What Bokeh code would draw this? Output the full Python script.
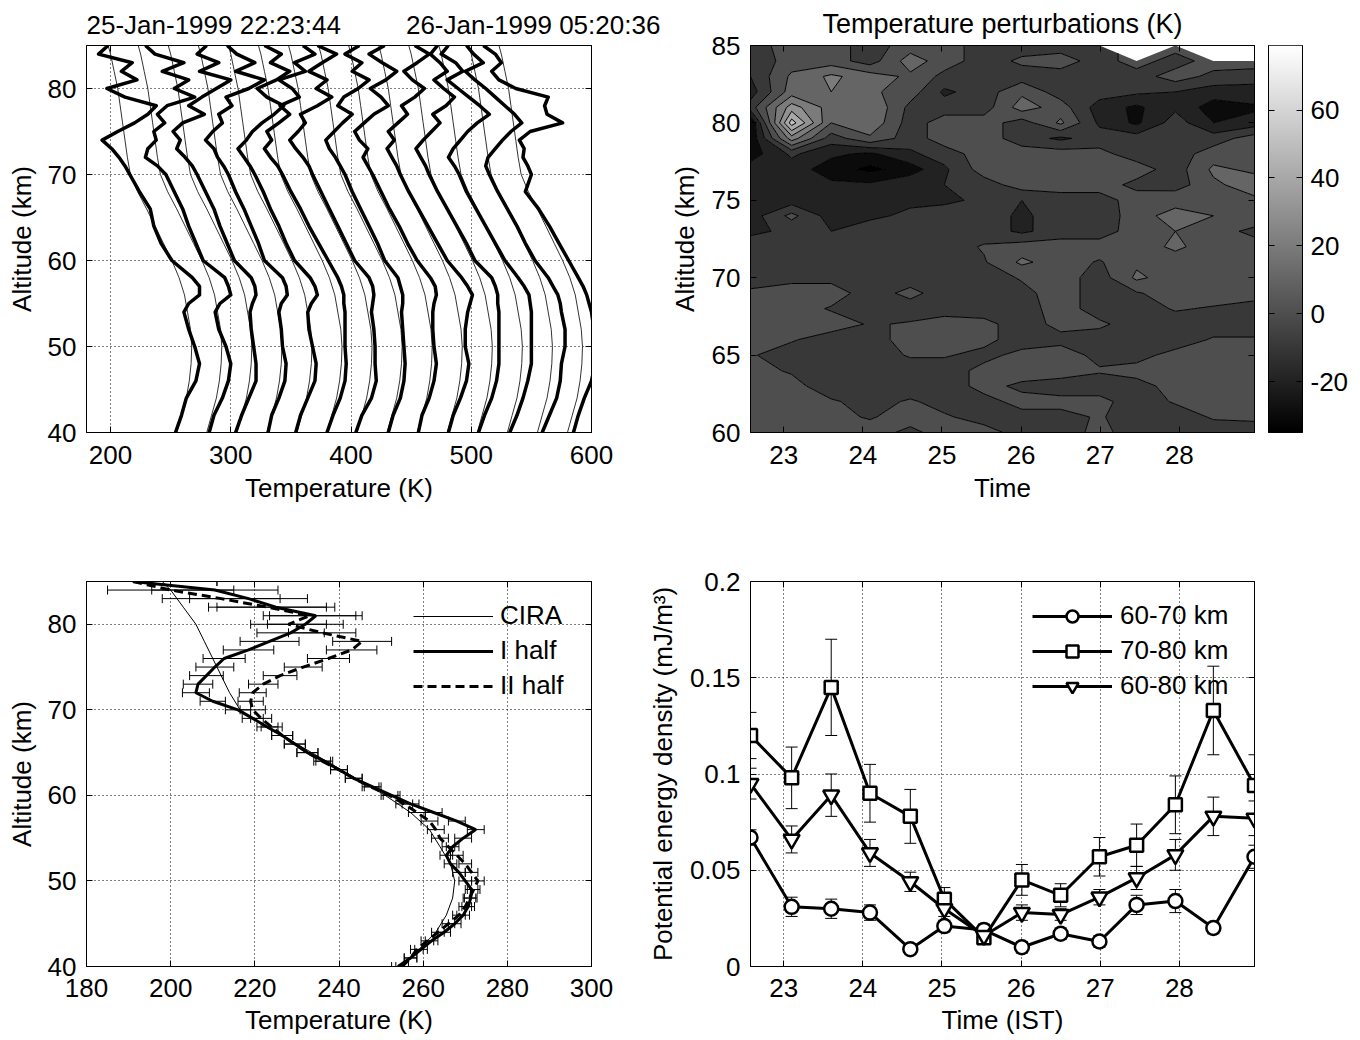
import numpy as np
from bokeh.plotting import figure
from bokeh.layouts import row, column
from bokeh.models import (Range1d, FixedTicker, LinearAxis, Whisker, TeeHead,
                          ColumnDataSource, LinearColorMapper, CustomJSTickFormatter,
                          Legend, LegendItem)
from bokeh.embed import file_html
from bokeh.resources import INLINE

NAN = float("nan")

# ------------------------------------------------------------------ data
# panel (a): individual temperature profiles, each shifted by 25 K
HEADER_START = "25-Jan-1999 22:23:44"
HEADER_END = "26-Jan-1999 05:20:36"
PROFILE_SHIFT_K = 25
PROFILE_ALT = [40, 42, 44, 46, 48, 50, 52, 54, 55, 56, 57, 58, 60, 62, 64, 66, 68, 70,
               71, 72, 73, 74, 75, 76, 77, 78, 79, 80, 81, 82, 83, 84, 85]
P00 = [254, 259, 263, 271, 274, 270, 265, 261, 265, 274, 274, 268, 251, 242, 236, 233, 224, 216,
       212, 207, 201, 193, 206, 220, 231, 238, 212, 197, 222, 209, 218, 190, 198]
P01 = [257, 261, 268, 273, 275, 271, 265, 262, 266, 275, 273, 270, 252, 246, 240, 235, 228, 221,
       214, 204, 206, 213, 211, 220, 214, 222, 245, 228, 240, 218, 236, 212, 204]
P02 = [254, 259, 265, 271, 271, 269, 267, 266, 268, 271, 270, 267, 253, 247, 241, 236, 229, 222,
       218, 212, 205, 208, 202, 210, 228, 215, 226, 238, 250, 224, 240, 222, 230]
P03 = [256, 259, 265, 270, 271, 268, 267, 265, 267, 272, 271, 268, 253, 248, 242, 236, 229, 223,
       219, 214, 211, 204, 210, 218, 215, 226, 221, 240, 253, 229, 245, 230, 222]
P04 = [254, 258, 264, 270, 271, 268, 265, 264, 267, 272, 270, 266, 253, 246, 240, 233, 227, 220,
       216, 211, 206, 213, 218, 226, 236, 244, 230, 222, 238, 249, 233, 242, 228]
P05 = [255, 260, 266, 270, 271, 270, 270, 270, 269, 269, 267, 264, 256, 248, 240, 233, 225, 218,
       214, 208, 203, 209, 205, 215, 224, 216, 232, 226, 215, 237, 228, 245, 235]
P06 = [254, 259, 267, 271, 270, 270, 269, 267, 268, 269, 268, 265, 253, 246, 239, 232, 225, 218,
       215, 210, 204, 199, 206, 212, 208, 222, 234, 221, 230, 215, 226, 238, 222]
P07 = [256, 260, 266, 269, 270, 269, 268, 267, 268, 268, 266, 264, 253, 247, 240, 233, 226, 220,
       216, 212, 207, 204, 211, 218, 226, 214, 219, 231, 240, 226, 234, 220, 232]
P08 = [256, 259, 265, 269, 271, 269, 268, 268, 269, 271, 270, 266, 255, 247, 240, 232, 225, 218,
       214, 210, 214, 207, 203, 211, 219, 231, 225, 216, 229, 238, 226, 215, 228]
P09 = [256, 260, 266, 271, 273, 270, 270, 272, 274, 276, 272, 267, 255, 247, 239, 231, 223, 216,
       213, 209, 205, 211, 206, 214, 222, 217, 228, 236, 226, 219, 230, 240, 228]
P10 = [256, 261, 267, 271, 273, 273, 273, 273, 272, 272, 270, 267, 253, 246, 238, 230, 222, 215,
       212, 208, 204, 210, 217, 224, 218, 229, 236, 227, 219, 230, 224, 216, 222]
P11 = [257, 263, 268, 272, 275, 275, 275, 275, 274, 273, 269, 264, 253, 245, 237, 229, 221, 215,
       211, 206, 210, 216, 222, 230, 240, 232, 223, 214, 205, 218, 212, 200, 206]
P12 = [259, 265, 271, 274, 275, 278, 278, 275, 274, 272, 268, 264, 253, 245, 238, 230, 222, 215,
       212, 214, 220, 226, 233, 242, 236, 228, 220, 212, 203, 195, 210, 202, 196]
P13 = [260, 264, 269, 275, 278, 278, 277, 275, 273, 271, 268, 264, 256, 248, 240, 231, 220, 225,
       222, 218, 219, 215, 224, 251, 238, 236, 239, 212, 198, 192, 200, 195, 185]
PROFILES = [P00, P01, P02, P03, P04, P05, P06, P07, P08, P09, P10, P11, P12, P13]

CIRA_ALT = [40, 42, 44, 46, 48, 50, 52, 54, 56, 58, 60, 62, 64, 66, 68, 70, 72, 74, 76, 78, 80, 82, 84, 85]
CIRA_T = [255, 259, 263, 265.5, 267, 267.5, 266.5, 264, 261.5, 257, 251, 244, 237, 230, 222.5,
          216.5, 214, 212, 210, 208, 206, 203, 200, 198]

# panel (b): temperature perturbations (K), rows from 85 km down to 60 km
PERT_TITLE = "Temperature perturbations (K)"
TIMES = [22.58, 23.10, 23.60, 24.09, 24.60, 25.03, 25.53, 26.01, 26.50, 26.99, 27.46, 27.95, 28.43, 28.95]
PERT_ALT = [85, 84, 83, 82, 81, 80, 79, 78, 77, 76, 75, 74, 73, 72, 71, 70, 69, 68, 67, 66, 65, 64, 63, 62, 61, 60]
PERT_ROWS = [
    [-5, 5, 5, -5, 5, 5, -5, -5, -5, -5, NAN, 5, NAN, NAN],
    [-8, 5, 5, -5, 15, 5, -5, 2, 5, -5, 5, -5, 5, 8],
    [-10, 12, 22, 15, 8, -3, -5, -5, -5, -5, -5, 5, -3, -8],
    [-15, 15, 20, 12, 5, -12, -5, 8, -5, -5, -8, -10, -15, -12],
    [-5, 35, 15, 20, -3, -5, -5, 15, 5, -15, -22, -12, -25, -22],
    [-30, 55, 10, 18, -5, 5, 5, -5, 12, -12, -22, -5, -20, -15],
    [-28, 25, -5, 8, -5, 5, 5, -5, -12, -5, -5, -5, -5, 5],
    [-25, -8, -18, -22, -12, -5, 5, 5, 5, 3, -5, -5, 5, 5],
    [-15, -15, -25, -33, -25, -12, 5, 5, 8, 5, 5, -5, 12, 8],
    [-15, -15, -18, -18, -12, -10, -5, 5, 5, 5, -3, -5, 8, 15],
    [-15, -15, -15, -12, -12, -12, -8, -10, -5, -5, 5, 8, 8, 8],
    [-15, 3, -15, -12, -8, -5, -5, -12, -5, -10, 8, 12, 10, 8],
    [-12, -8, -10, -5, -5, -5, -5, -12, -5, -5, 5, 10, 5, -3],
    [-5, -5, -5, -5, -5, -5, 1, 5, 5, 5, 5, 12, 5, 5],
    [-5, -5, -5, -5, -5, -5, -1, 12, 5, -1, 8, 5, 5, 5],
    [-5, -3, -3, -5, -5, -5, -5, 1, 5, -5, 12, 5, 5, 5],
    [2, 5, 5, -5, 3, -5, -5, -3, 5, -5, -1, 5, 5, 5],
    [5, 5, -1, -5, -5, -5, -5, -5, 5, -5, -5, 1, -1, -5],
    [5, 5, 5, -1, 1, 5, 3, -5, 3, 2, -5, -5, -5, -5],
    [5, 1, -5, -5, 5, 5, 3, -5, -3, -5, -5, -5, 1, 1],
    [1, -5, -5, -5, 1, 1, -3, 3, 5, -3, -3, 3, 5, 5],
    [3, -1, -5, -5, -5, -5, 3, 5, 5, 1, 3, 5, 5, 5],
    [5, 3, -5, -5, -5, -5, 3, -2, -5, -5, -3, 3, 5, 5],
    [5, 3, 1, -3, 1, -3, -3, 3, 3, 3, -5, 1, 5, 5],
    [5, 5, 3, -1, 5, 1, -3, -3, -3, 1, -5, -5, 1, 2],
    [5, 5, 3, 5, -3, 5, 3, -3, -5, 3, -5, -5, -5, -5],
]
PERT_LEVELS = [-35, -30, -20, -10, 0, 10, 20, 30, 40, 50, 60, 70, 79]
CBAR_LOW, CBAR_HIGH = -35, 79
CBAR_TICKS = [-20, 0, 20, 40, 60]

# panel (c): mean profiles of the two halves of the night
MEAN_ALT = [40, 41, 42, 43, 44, 45, 46, 47, 48, 49, 50, 51, 52, 53, 54, 55, 56, 57, 58, 59, 60, 61, 62,
            63, 64, 65, 66, 67, 68, 69, 70, 71, 72, 73, 74, 75, 76, 77, 78, 79, 80, 81, 82, 83, 84, 85]
I_HALF = [254.0, 257.0, 259.5, 262.0, 265.0, 267.5, 269.5, 270.7, 271.3, 271.5, 270.0, 268.5, 266.5,
          265.5, 267.0, 269.5, 272.5, 268.0, 262.5, 257.0, 252.5, 248.0, 243.5, 240.0, 236.5, 232.5,
          229.5, 226.5, 223.0, 219.5, 216.0, 210.0, 206.0, 206.5, 208.5, 210.5, 212.7, 218.5, 223.5,
          228.5, 232.0, 234.5, 225.0, 218.5, 210.5, 191.0]
II_HALF = [255.0, 257.0, 258.5, 261.0, 263.5, 266.0, 268.5, 270.0, 271.0, 272.0, 273.0, 271.5, 270.0,
           268.0, 266.0, 264.0, 263.0, 261.5, 258.5, 255.5, 252.0, 247.5, 243.5, 240.0, 236.0, 232.5,
           229.5, 226.5, 224.0, 221.5, 219.5, 219.0, 219.5, 222.0, 226.0, 231.5, 237.5, 243.0, 245.5,
           236.0, 228.0, 233.0, 223.0, 212.0, 200.0, 191.0]
MEAN_ERR = [1.5, 1.5, 1.5, 1.5, 1.5, 1.5, 1.5, 1.5, 1.5, 1.5, 1.5, 1.5, 1.5, 1.5, 1.5, 2.0, 2.0, 2.0,
            2.0, 2.0, 2.0, 2.0, 2.0, 2.0, 2.0, 2.5, 2.5, 2.5, 2.5, 2.5, 3.0, 3.0, 3.2, 3.5, 4.0, 4.5,
            5.0, 6.0, 7.0, 8.0, 9.0, 11.0, 14.0, 14.0, 15.0, 20.0]

# panel (d): potential energy density (mJ/m^3)
PE_60_70 = [0.067, 0.031, 0.030, 0.028, 0.009, 0.021, 0.019, 0.010, 0.017, 0.013, 0.032, 0.034, 0.020, 0.057]
PE_60_70_ERR = [0.004, 0.005, 0.005, 0.004, 0.002, 0.003, 0.003, 0.003, 0.003, 0.003, 0.005, 0.006, 0.003, 0.006]
PE_70_80 = [0.120, 0.098, 0.145, 0.090, 0.078, 0.035, 0.015, 0.045, 0.037, 0.057, 0.063, 0.084, 0.133, 0.094]
PE_70_80_ERR = [0.012, 0.016, 0.025, 0.015, 0.014, 0.006, 0.003, 0.008, 0.006, 0.010, 0.011, 0.015, 0.023, 0.016]
PE_60_80 = [0.095, 0.066, 0.089, 0.059, 0.044, 0.030, 0.016, 0.028, 0.027, 0.036, 0.046, 0.058, 0.078, 0.077]
PE_60_80_ERR = [0.008, 0.007, 0.011, 0.007, 0.005, 0.004, 0.002, 0.004, 0.003, 0.004, 0.006, 0.008, 0.010, 0.009]

# ------------------------------------------------------------------ style helpers
FONT = "Liberation Sans"
FS = "26px"
PLAIN_NUM = "return String(tick)"


def blank_axis(ticks):
    return LinearAxis(ticker=FixedTicker(ticks=ticks),
                      formatter=CustomJSTickFormatter(code="return ''"),
                      major_label_text_font_size="1px", major_label_standoff=0,
                      major_tick_in=6, major_tick_out=0, minor_tick_line_color=None,
                      axis_line_color="black", major_tick_line_color="black")


def make_fig(w, h, xr, yr, bl, br, bt, bb, xticks, yticks, xlabel, ylabel, grid,
             x_std=13, x_als=6, y_std=10, y_als=8, yfmt=None, title=None, title_align="left",
             title_standoff=10, title_size=FS):
    p = figure(width=w, height=h, x_range=Range1d(*xr), y_range=Range1d(*yr),
               min_border_left=bl, min_border_right=br, min_border_top=bt, min_border_bottom=bb,
               output_backend="svg", toolbar_location=None)
    p.background_fill_color = "white"
    p.border_fill_color = "white"
    p.outline_line_color = "black"
    p.outline_line_width = 1
    for ax, ticks, lab, std, als in ((p.xaxis[0], xticks, xlabel, x_std, x_als),
                                     (p.yaxis[0], yticks, ylabel, y_std, y_als)):
        ax.ticker = FixedTicker(ticks=ticks)
        ax.axis_label = lab
        ax.axis_label_text_font = FONT
        ax.axis_label_text_font_size = FS
        ax.axis_label_text_font_style = "normal"
        ax.axis_label_text_color = "black"
        ax.axis_label_standoff = als
        ax.major_label_text_font = FONT
        ax.major_label_text_font_size = FS
        ax.major_label_text_color = "black"
        ax.major_label_standoff = std
        ax.major_tick_in = 6
        ax.major_tick_out = 0
        ax.minor_tick_line_color = None
        ax.axis_line_color = "black"
        ax.major_tick_line_color = "black"
    if yfmt is not None:
        p.yaxis[0].formatter = yfmt
    p.add_layout(blank_axis(xticks), "above")
    p.add_layout(blank_axis(yticks), "right")
    if grid:
        p.xgrid.ticker = FixedTicker(ticks=xticks)
        p.ygrid.ticker = FixedTicker(ticks=yticks)
        p.grid.grid_line_color = "black"
        p.grid.grid_line_dash = "1 3"
        p.grid.grid_line_width = 1
        p.grid.grid_line_alpha = 1.0
    else:
        p.grid.visible = False
    if title is not None:
        p.title.text = title
        p.title.align = title_align
        p.title.text_font = FONT
        p.title.text_font_size = title_size
        p.title.text_font_style = "normal"
        p.title.text_color = "black"
        p.title.standoff = title_standoff
    return p


# ------------------------------------------------------------------ panel (a)
header = HEADER_START + "\u00a0" * 9 + HEADER_END
p1 = make_fig(666, 512, (180, 600), (40, 85), 86, 75, 45, 80,
              [200, 300, 400, 500, 600], [40, 50, 60, 70, 80],
              "Temperature (K)", "Altitude (km)", True,
              title=header, title_align="left", title_standoff=12)
for k, prof in enumerate(PROFILES):
    shift = PROFILE_SHIFT_K * k
    p1.line(np.array(CIRA_T) + shift, CIRA_ALT, line_color="#333333", line_width=1)
for k, prof in enumerate(PROFILES):
    shift = PROFILE_SHIFT_K * k
    p1.line(np.array(prof) + shift, PROFILE_ALT, line_color="black", line_width=3.5, line_join="round")

# ------------------------------------------------------------------ panel (b)
p2 = make_fig(594, 512, (TIMES[0], TIMES[-1]), (60, 85), 84, 6, 45, 80,
              [23, 24, 25, 26, 27, 28], [60, 65, 70, 75, 80, 85],
              "Time", "Altitude (km)", False, y_als=9,
              title=PERT_TITLE, title_align="center", title_standoff=13, title_size="27px")
z = np.array(PERT_ROWS, dtype=float)[::-1]
alt_up = np.array(PERT_ALT, dtype=float)[::-1]
span = CBAR_HIGH - CBAR_LOW
band_colors = []
for lv in PERT_LEVELS[:-1]:
    g = int(round(255 * (lv - CBAR_LOW) / span))
    band_colors.append("#%02x%02x%02x" % (g, g, g))
p2.contour(x=np.array(TIMES), y=alt_up, z=z, levels=PERT_LEVELS,
           fill_color=band_colors, line_color="black", line_width=1)

# colour bar
GRAY = ["#%02x%02x%02x" % (v, v, v) for v in range(256)]
pcb = figure(width=92, height=512, x_range=Range1d(0, 1), y_range=Range1d(CBAR_LOW, CBAR_HIGH),
             min_border_left=8, min_border_right=50, min_border_top=45, min_border_bottom=80,
             output_backend="svg", toolbar_location=None, y_axis_location="right")
pcb.xaxis.visible = False
pcb.grid.visible = False
pcb.outline_line_color = "black"
pcb.background_fill_color = "white"
pcb.border_fill_color = "white"
grad = np.linspace(CBAR_LOW, CBAR_HIGH, 256).reshape(-1, 1)
pcb.image(image=[grad], x=0, y=CBAR_LOW, dw=1, dh=span,
          color_mapper=LinearColorMapper(palette=GRAY, low=CBAR_LOW, high=CBAR_HIGH))
cy = pcb.yaxis[0]
cy.ticker = FixedTicker(ticks=CBAR_TICKS)
cy.formatter = CustomJSTickFormatter(code=PLAIN_NUM)
cy.major_label_text_font = FONT
cy.major_label_text_font_size = FS
cy.major_label_text_color = "black"
cy.major_label_standoff = 8
cy.major_tick_in = 6
cy.major_tick_out = 0
cy.minor_tick_line_color = None
cy.axis_line_color = "black"
pcb.add_layout(blank_axis(CBAR_TICKS), "left")

# ------------------------------------------------------------------ panel (c)
p3 = make_fig(632, 528, (180, 300), (40, 85), 86, 41, 69, 74,
              [180, 200, 220, 240, 260, 280, 300], [40, 50, 60, 70, 80],
              "Temperature (K)", "Altitude (km)", True, x_std=12, x_als=5)
for vals in (I_HALF, II_HALF):
    src = ColumnDataSource(dict(base=MEAN_ALT,
                                lower=[t - e for t, e in zip(vals, MEAN_ERR)],
                                upper=[t + e for t, e in zip(vals, MEAN_ERR)]))
    p3.add_layout(Whisker(source=src, base="base", lower="lower", upper="upper", dimension="width",
                          line_color="black", line_width=1,
                          upper_head=TeeHead(size=9, line_color="black", line_width=1),
                          lower_head=TeeHead(size=9, line_color="black", line_width=1)))
r_cira = p3.line(CIRA_T, CIRA_ALT, line_color="black", line_width=1)
r_i = p3.line(I_HALF, MEAN_ALT, line_color="black", line_width=3)
r_ii = p3.line(II_HALF, MEAN_ALT, line_color="black", line_width=3, line_dash="9 5")
leg3 = Legend(items=[LegendItem(label="CIRA", renderers=[r_cira]),
                     LegendItem(label="I half", renderers=[r_i]),
                     LegendItem(label="II half", renderers=[r_ii])],
              location=(327, 265), glyph_width=80, glyph_height=30, label_height=30,
              spacing=4, padding=0, margin=0, label_standoff=7,
              label_text_font=FONT, label_text_font_size=FS, label_text_color="black",
              background_fill_alpha=0, border_line_alpha=0)
p3.add_layout(leg3)

# ------------------------------------------------------------------ panel (d)
p4 = make_fig(720, 528, (TIMES[0], TIMES[-1]), (0, 0.2), 118, 98, 69, 74,
              [23, 24, 25, 26, 27, 28], [0, 0.05, 0.1, 0.15, 0.2],
              "Time (IST)", "Potential energy density (mJ/m\u00b3)", True,
              x_std=12, x_als=5, y_als=9,
              yfmt=CustomJSTickFormatter(code=PLAIN_NUM))
series = [("60-70 km", PE_60_70, PE_60_70_ERR, "circle", 14),
          ("70-80 km", PE_70_80, PE_70_80_ERR, "square", 13),
          ("60-80 km", PE_60_80, PE_60_80_ERR, "inverted_triangle", 16)]
items = []
for label, vals, errs, marker, size in series:
    src = ColumnDataSource(dict(base=TIMES,
                                lower=[v - e for v, e in zip(vals, errs)],
                                upper=[v + e for v, e in zip(vals, errs)]))
    p4.add_layout(Whisker(source=src, base="base", lower="lower", upper="upper", dimension="height",
                          line_color="black", line_width=1,
                          upper_head=TeeHead(size=12, line_color="black", line_width=1),
                          lower_head=TeeHead(size=12, line_color="black", line_width=1)))
for label, vals, errs, marker, size in series:
    rl = p4.line(TIMES, vals, line_color="black", line_width=3)
    rs = p4.scatter(TIMES, vals, marker=marker, size=size, line_color="black",
                    line_width=2.5, fill_color="white")
    items.append(LegendItem(label=label, renderers=[rl, rs]))
leg4 = Legend(items=items, location=(282, 265), glyph_width=80, glyph_height=30, label_height=30,
              spacing=4, padding=0, margin=0, label_standoff=8,
              label_text_font=FONT, label_text_font_size=FS, label_text_color="black",
              background_fill_alpha=0, border_line_alpha=0)
p4.add_layout(leg4)

layout = column(row(p1, p2, pcb), row(p3, p4))
open("out.html", "w").write(file_html(layout, INLINE))
